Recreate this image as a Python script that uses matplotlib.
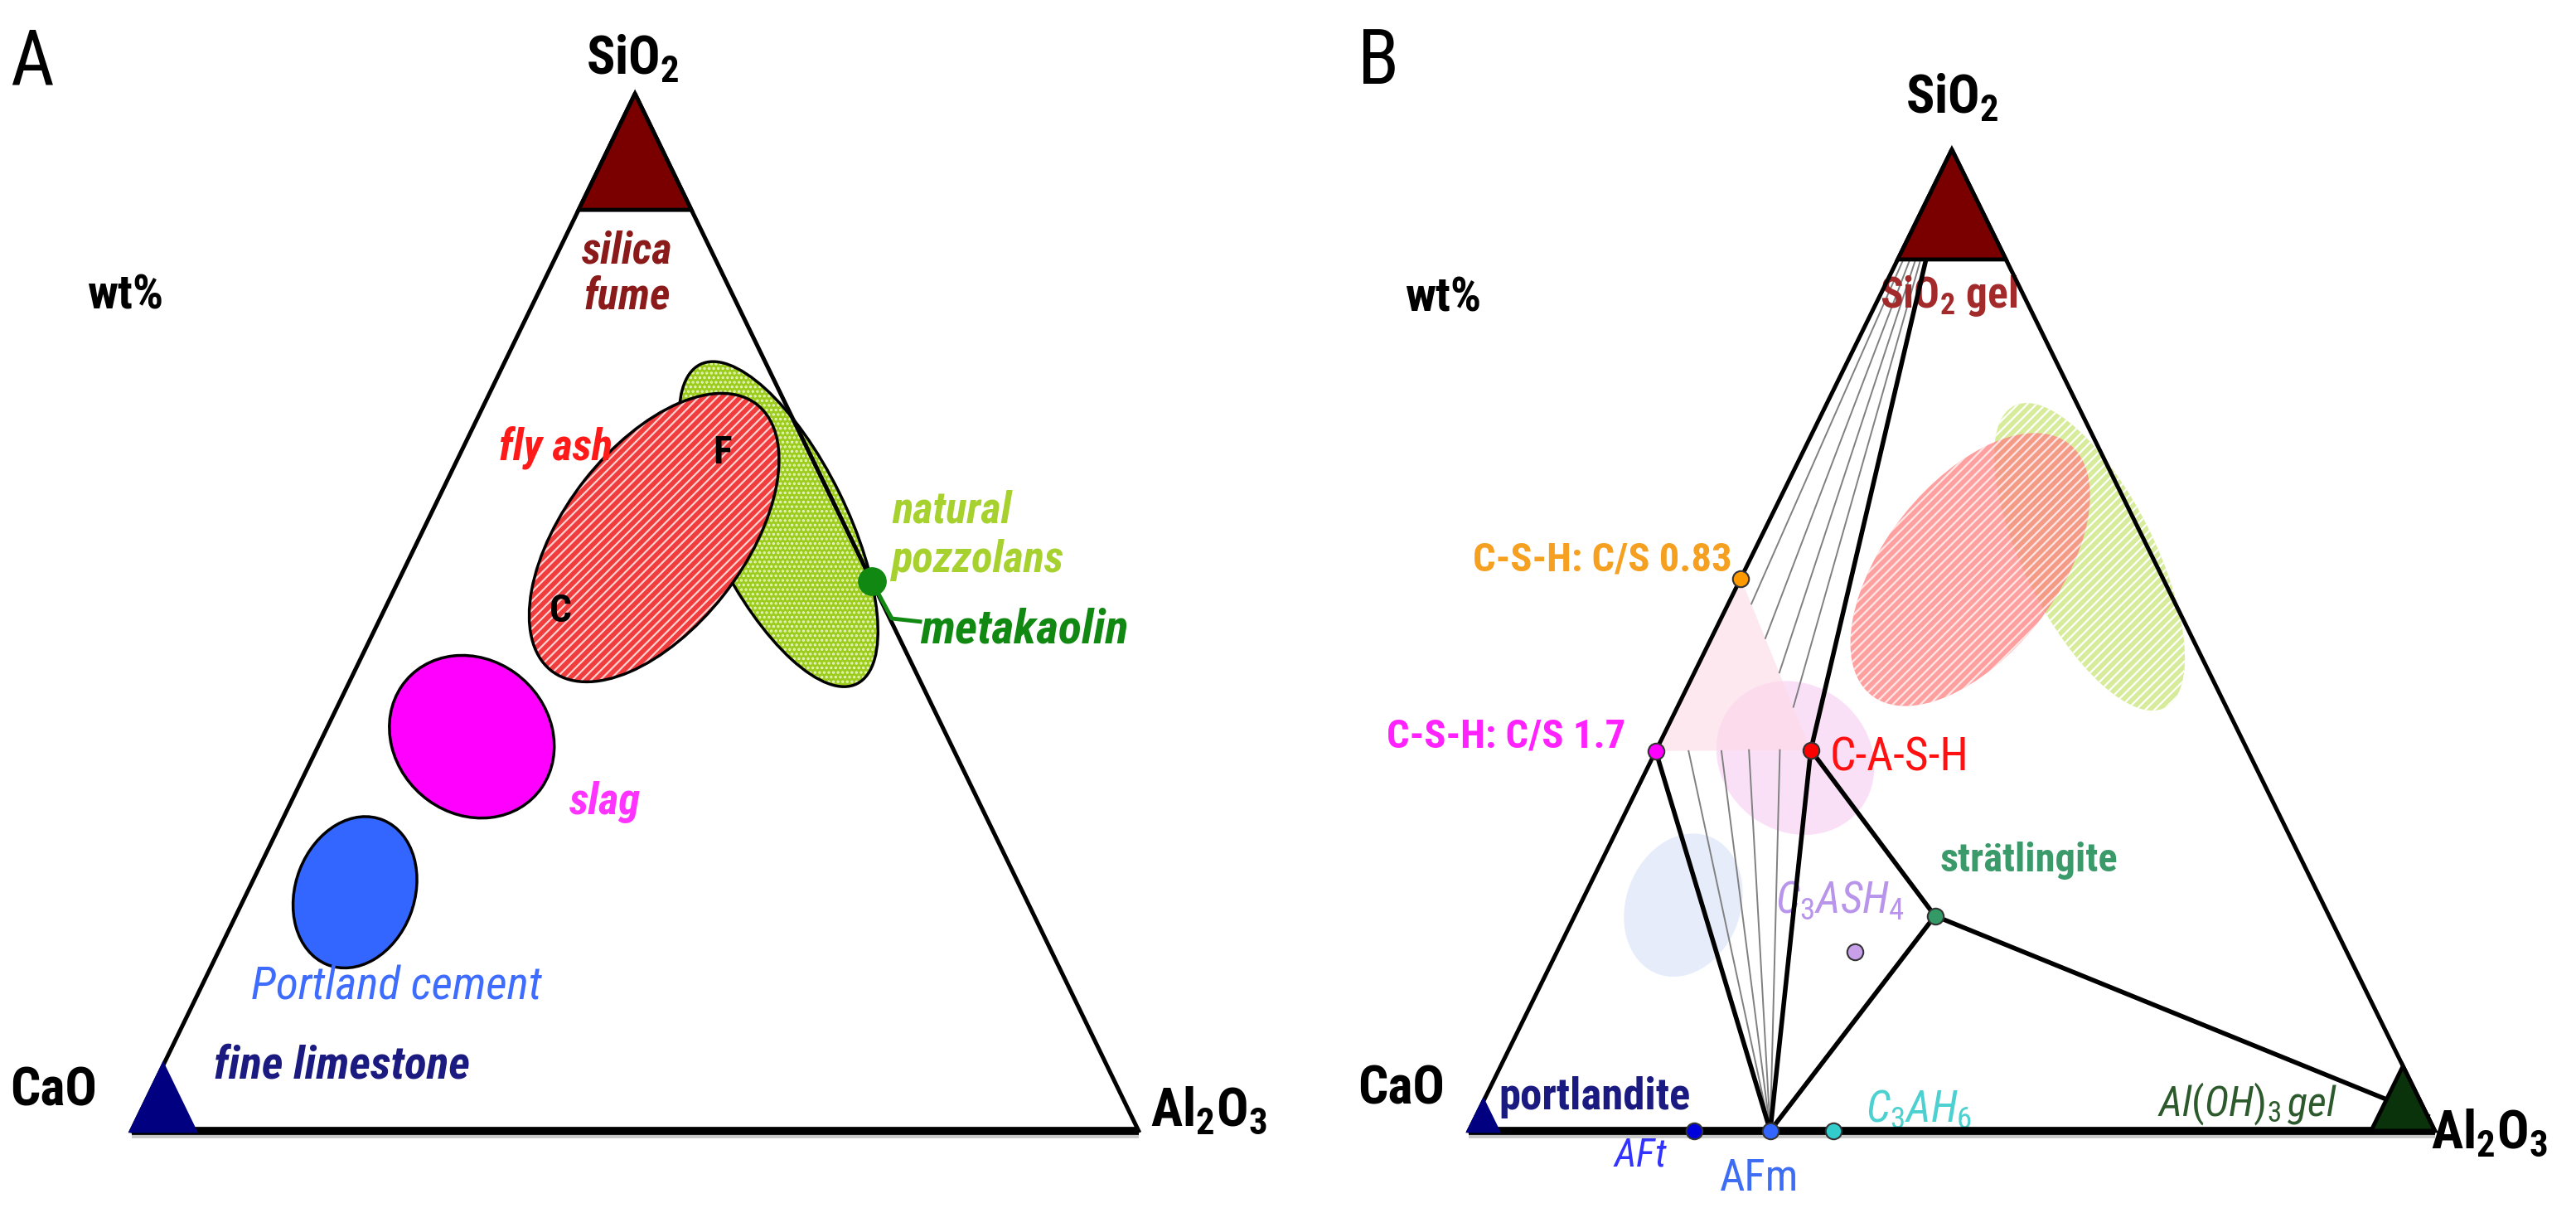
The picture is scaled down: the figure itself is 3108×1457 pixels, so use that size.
import matplotlib.pyplot as plt
from matplotlib import font_manager
from matplotlib.patches import Ellipse, Polygon
from matplotlib.transforms import ScaledTranslation

have = {f.name for f in font_manager.fontManager.ttflist}
cands = ['Liberation Sans Narrow', 'Arial Narrow', 'Nimbus Sans Narrow',
         'Roboto Condensed', 'Archivo Narrow', 'Liberation Sans']
narrow = [c for c in cands if c in have][0]

plt.rcParams['font.family'] = [narrow, 'DejaVu Sans']
plt.rcParams['mathtext.fontset'] = 'custom'
plt.rcParams['mathtext.rm'] = narrow
plt.rcParams['mathtext.it'] = narrow + ':italic'
plt.rcParams['mathtext.bf'] = narrow + ':bold'
plt.rcParams['hatch.linewidth'] = 1.6

# compositions in wt% : CaO, SiO2, Al2O3
mat_names = ["fly ash", "natural pozzolans", "slag", "Portland cement"]
mat_cao = [19.5, 6.5, 47.2, 66.3]
mat_sio2 = [57.2, 58.5, 38.0, 23.0]
mat_al2o3 = [23.3, 35.0, 14.8, 10.7]

mk_cao, mk_sio2, mk_al2o3 = 0.0, 53.0, 47.0   # metakaolin

phase_names = ["C-S-H: C/S 0.83", "C-S-H: C/S 1.7", "C-A-S-H", "strätlingite",
               "C3ASH4", "AFt", "AFm", "C3AH6"]
phase_cao = [43.7, 61.3, 45.2, 40.8, 50.9, 76.7, 68.8, 62.3]
phase_sio2 = [56.3, 38.7, 38.8, 21.9, 18.2, 0.0, 0.0, 0.0]
phase_al2o3 = [0.0, 0.0, 16.0, 37.3, 30.9, 23.3, 31.2, 37.7]
phase_colors = ["#ff9900", "#ff00ff", "#ff0000", "#339966", "#c8a0ea",
                "#0000dd", "#3366ff", "#33cccc"]

# C-(A-)S-H compositions tied to SiO2 gel (upper) and to AFm (lower)
tie_up_cao = [43.9, 44.2, 44.5, 44.8]
tie_up_sio2 = [53.7, 50.2, 46.7, 43.2]
tie_up_al2o3 = [2.4, 5.6, 8.8, 12.0]
tie_lo_cao = [57.9, 54.5, 51.6, 48.4]
tie_lo_sio2 = [38.7, 38.7, 38.8, 38.8]
tie_lo_al2o3 = [3.4, 6.8, 9.6, 12.8]


def tern(ca, si, al):
    s = ca + si + al
    return (al + si / 2) / s, si / s


def corner(ax, which, a, color, ec):
    if which == "Si":
        pts = [tern(0, 1, 0), tern(a, 1 - a, 0), tern(0, 1 - a, a)]
    elif which == "Ca":
        pts = [tern(1, 0, 0), tern(1 - a, a, 0), tern(1 - a, 0, a)]
    else:
        pts = [tern(0, 0, 1), tern(a, 0, 1 - a), tern(0, a, 1 - a)]
    ax.add_patch(Polygon(pts, closed=True, fc=color, ec=ec, lw=3.5, zorder=6,
                         clip_on=False))


def outline(ax):
    ax.plot([0, 0.5, 1], [0, 1, 0], color="black", lw=3.6, zorder=5, clip_on=False)
    shadow = ax.transData + ScaledTranslation(0, -0.04, ax.figure.dpi_scale_trans)
    ax.plot([0, 1], [0, 0], color="#c8c8c8", lw=7, zorder=4, clip_on=False,
            solid_capstyle="butt", transform=shadow)
    ax.plot([0, 1], [0, 0], color="black", lw=7, zorder=5, clip_on=False,
            solid_capstyle="butt")


# ellipse shapes (width, height, angle) in triangle units
shape_w = [0.328, 0.345, 0.17, 0.15]
shape_h = [0.177, 0.135, 0.15, 0.118]
shape_ang = [51, 117, -35, 68]

fig = plt.figure(figsize=(31.08, 14.57), dpi=100)
axA = fig.add_axes([0.0510, 0.0639, 0.3910, 0.8585])
axB = fig.add_axes([0.5702, 0.0639, 0.3750, 0.8123])
for ax in (axA, axB):
    ax.set_xlim(0, 1)
    ax.set_ylim(0, 1)
    ax.axis("off")

fig.text(0.004, 0.948, "A", fontsize=66, ha="left", va="center")
fig.text(0.527, 0.948, "B", fontsize=66, ha="left", va="center")

# ---------------- panel A ----------------
ax = axA
outline(ax)
centers = [tern(c, s, a) for c, s, a in zip(mat_cao, mat_sio2, mat_al2o3)]

# natural pozzolans (under fly ash)
ax.add_patch(Ellipse(centers[1], shape_w[1], shape_h[1], angle=shape_ang[1],
                     fc="#9ccc1c", ec="#e8f5c0", lw=0, hatch="...", zorder=2))
ax.add_patch(Ellipse(centers[1], shape_w[1], shape_h[1], angle=shape_ang[1],
                     fc="none", ec="black", lw=2.5, zorder=2))
ax.add_patch(Ellipse(centers[0], shape_w[0], shape_h[0], angle=shape_ang[0],
                     fc="#f03c3c", ec="#ffd0d0", lw=0, hatch="///", zorder=3))
ax.add_patch(Ellipse(centers[0], shape_w[0], shape_h[0], angle=shape_ang[0],
                     fc="none", ec="black", lw=2.5, zorder=3))
ax.add_patch(Ellipse(centers[2], shape_w[2], shape_h[2], angle=shape_ang[2],
                     fc="#ff00ff", ec="black", lw=2.5, zorder=3))
ax.add_patch(Ellipse(centers[3], shape_w[3], shape_h[3], angle=shape_ang[3],
                     fc="#3366ff", ec="black", lw=2.5, zorder=3))

mkx, mky = tern(mk_cao, mk_sio2, mk_al2o3)
ax.plot([mkx, 0.755, 0.783], [mky, 0.494, 0.491], color="#118811", lw=3.5,
        zorder=6, clip_on=False)
ax.plot(mkx, mky, "o", ms=24, color="#118811", zorder=7, clip_on=False)

corner(ax, "Si", 0.112, "#7a0000", "black")
corner(ax, "Ca", 0.063, "#000080", "#000080")

ax.text(0.4976, 1.033, "SiO$_\\mathbf{2}$", fontsize=46, fontweight="bold",
        ha="center", va="center")
ax.text(-0.077, 0.038, "CaO", fontsize=46, fontweight="bold", ha="center", va="center")
ax.text(1.07, 0.019, "Al$_\\mathbf{2}$O$_\\mathbf{3}$", fontsize=46,
        fontweight="bold", ha="center", va="center")
ax.text(-0.006, 0.805, "wt%", fontsize=42, fontweight="bold", ha="center", va="center")
ax.text(0.492, 0.826, "silica\nfume", fontsize=38, fontweight="bold",
        style="italic", color="#8b1a1a", ha="center", va="center", linespacing=1.1)
ax.text(0.421, 0.659, "fly ash", fontsize=38, style="italic", fontweight="bold",
        color="#ff1a1a", ha="center", va="center")
ax.text(0.587, 0.654, "F", fontsize=34, fontweight="bold", ha="center", va="center")
ax.text(0.426, 0.501, "C", fontsize=34, fontweight="bold", ha="center", va="center")
ax.text(0.755, 0.574, "natural\npozzolans", fontsize=38, style="italic",
        fontweight="bold", color="#a6d12e", ha="left", va="center", linespacing=1.2)
ax.text(0.783, 0.483, "metakaolin", fontsize=42, style="italic", fontweight="bold",
        color="#118811", ha="left", va="center")
ax.text(0.470, 0.317, "slag", fontsize=38, style="italic", fontweight="bold",
        color="#ff33ff", ha="center", va="center")
ax.text(0.263, 0.139, "Portland cement", fontsize=40, style="italic",
        color="#3d6cff", ha="center", va="center")
ax.text(0.209, 0.063, "fine limestone", fontsize=40, style="italic",
        fontweight="bold", color="#1a1a80", ha="center", va="center")

# ---------------- panel B ----------------
ax = axB
outline(ax)

# faded material fields
ax.add_patch(Ellipse(centers[1], shape_w[1], shape_h[1], angle=shape_ang[1],
                     fc="#d7ec9a", ec="white", lw=0, hatch="///", zorder=1))
ax.add_patch(Ellipse(centers[0], shape_w[0], shape_h[0], angle=shape_ang[0],
                     fc="#ff8080", ec="white", lw=0, hatch="///", zorder=1,
                     alpha=0.75))
ax.add_patch(Ellipse(centers[2], shape_w[2], shape_h[2], angle=shape_ang[2],
                     fc="#f7c8f2", ec="none", alpha=0.55, zorder=1))
ax.add_patch(Ellipse(centers[3], shape_w[3], shape_h[3], angle=shape_ang[3],
                     fc="#dde5fa", ec="none", alpha=0.7, zorder=1))

pts = [tern(c, s, a) for c, s, a in zip(phase_cao, phase_sio2, phase_al2o3)]
ax.add_patch(Polygon([pts[0], pts[1], pts[2]], closed=True, fc="#fcd9e6",
                     ec="none", alpha=0.6, zorder=1))

apex = tern(0, 100, 0)
afm = pts[6]
for c, s, a in zip(tie_up_cao, tie_up_sio2, tie_up_al2o3):
    p = tern(c, s, a)
    ax.plot([apex[0], p[0]], [apex[1], p[1]], color="#808080", lw=1.4, zorder=2)
for c, s, a in zip(tie_lo_cao, tie_lo_sio2, tie_lo_al2o3):
    p = tern(c, s, a)
    ax.plot([p[0], afm[0]], [p[1], afm[1]], color="#808080", lw=1.4, zorder=2)

alg = tern(0, 1.5, 98.5)
segs = [(apex, pts[2]), (pts[1], afm), (pts[2], afm), (pts[2], pts[3]),
        (pts[3], afm), (pts[3], alg)]
for p, q in segs:
    ax.plot([p[0], q[0]], [p[1], q[1]], color="black", lw=4, zorder=4)

corner(ax, "Si", 0.112, "#7a0000", "black")
corner(ax, "Ca", 0.03, "#000080", "#000080")
corner(ax, "Al", 0.066, "#0b330b", "black")

for (x, y), col in zip(pts, phase_colors):
    ax.plot(x, y, "o", ms=14, mfc=col, mec="#333333", mew=1.5, zorder=8,
            clip_on=False)

ax.text(0.5, 1.052, "SiO$_\\mathbf{2}$", fontsize=46, fontweight="bold",
        ha="center", va="center")
ax.text(-0.0697, 0.042, "CaO", fontsize=46, fontweight="bold", ha="center",
        va="center")
ax.text(1.056, -0.003, "Al$_\\mathbf{2}$O$_\\mathbf{3}$", fontsize=46,
        fontweight="bold", ha="center", va="center")
ax.text(-0.027, 0.848, "wt%", fontsize=42, fontweight="bold", ha="center",
        va="center")
ax.text(0.497, 0.851, "SiO$_\\mathbf{2}$ gel", fontsize=37, fontweight="bold",
        color="#a32a2a", ha="center", va="center")
ax.text(0.272, 0.582, phase_names[0], fontsize=35, fontweight="bold",
        color="#f5a020", ha="right", va="center")
ax.text(0.162, 0.402, phase_names[1], fontsize=35, fontweight="bold",
        color="#ff22ff", ha="right", va="center")
ax.text(0.374, 0.380, phase_names[2], fontsize=40, color="#ff1111",
        ha="left", va="center")
ax.text(0.58, 0.275, phase_names[3], fontsize=35, fontweight="bold",
        color="#3a9a6a", ha="center", va="center")
ax.text(0.384, 0.235, "$C_3ASH_4$", fontsize=38, color="#b894ea",
        ha="center", va="center")
ax.text(0.031, 0.034, "portlandite", fontsize=38, fontweight="bold",
        color="#1a1a80", ha="left", va="center")
ax.text(0.177, -0.025, "$AFt$", fontsize=34, color="#3333ff",
        ha="center", va="center")
ax.text(0.301, -0.049, "AFm", fontsize=38, color="#3d6cf5",
        ha="center", va="center")
ax.text(0.466, 0.022, "$C_3AH_6$", fontsize=38, color="#4cd0d0",
        ha="center", va="center")
ax.text(0.806, 0.027, "$Al(OH)_3\\,gel$", fontsize=36, color="#2d5a2d",
        ha="center", va="center")

fig.savefig("out.png", dpi=100)
